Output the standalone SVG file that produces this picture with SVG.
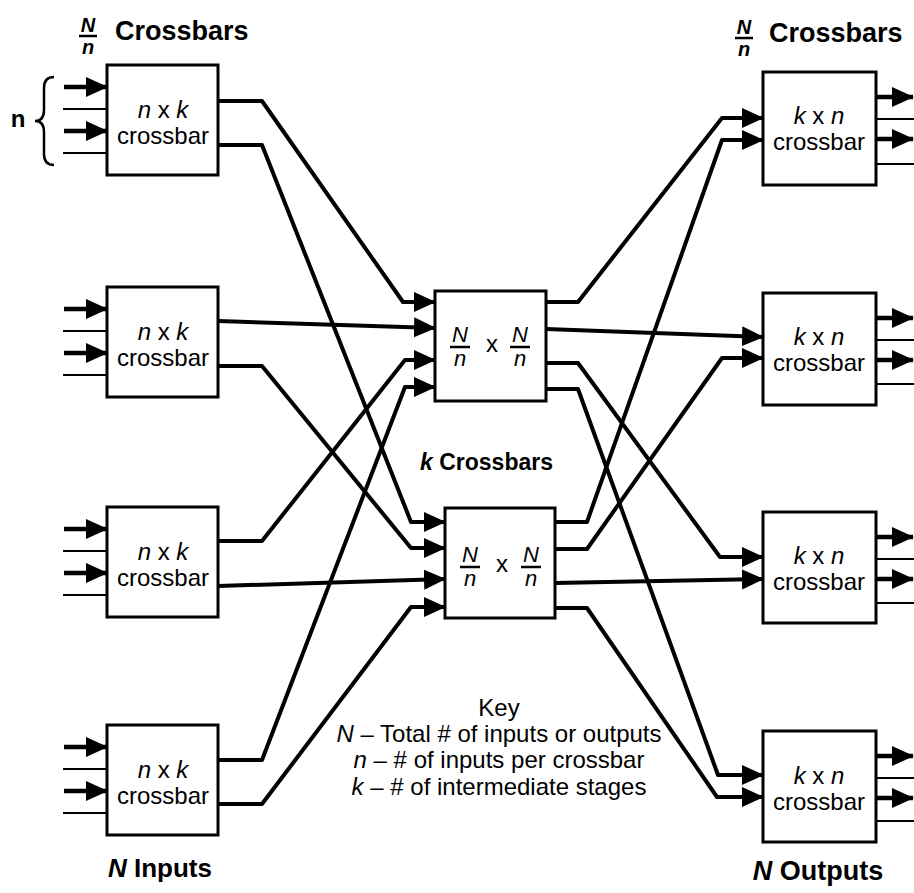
<svg xmlns="http://www.w3.org/2000/svg" width="914" height="893" viewBox="0 0 914 893">
<defs>
<marker id="ah" markerUnits="userSpaceOnUse" markerWidth="22" markerHeight="22" refX="21" refY="10" orient="auto" viewBox="0 0 22 20">
<path d="M0,0 L22,10 L0,20 z" fill="#000"/>
</marker>
</defs>
<style>
text{font-family:"Liberation Sans",Arial,sans-serif;fill:#000}
.box{fill:#fff;stroke:#000;stroke-width:3}
.lbl{font-size:24px;text-anchor:middle}
.fr{font-size:22px;text-anchor:middle;font-style:italic}
.hf{font-size:20px;text-anchor:middle;font-style:italic;font-weight:bold}
.it{font-style:italic}
.bd{font-weight:bold}
.thick{fill:none;stroke:#000;stroke-width:4.5;marker-end:url(#ah)}
.thin{fill:none;stroke:#000;stroke-width:2}
.conn{fill:none;stroke:#000;stroke-width:4;stroke-linejoin:round;marker-end:url(#ah)}
.bar{stroke:#000;stroke-width:2.5}
</style>
<rect width="914" height="893" fill="#fff"/>

<g id="headers">
<text x="88" y="32" class="hf">N</text>
<line x1="79" y1="36" x2="97" y2="36" class="bar"/>
<text x="88" y="54" class="hf">n</text>
<text x="115" y="40" class="bd" style="font-size:27px">Crossbars</text>
<text x="744" y="34" class="hf">N</text>
<line x1="735" y1="38" x2="753" y2="38" class="bar"/>
<text x="744" y="56" class="hf">n</text>
<text x="769" y="42" class="bd" style="font-size:27px">Crossbars</text>
<text x="420" y="470" class="bd" style="font-size:23px"><tspan class="it">k</tspan> Crossbars</text>
<text x="160" y="877" class="bd" style="font-size:26px;text-anchor:middle"><tspan class="it">N</tspan> Inputs</text>
<text x="818" y="880" class="bd" style="font-size:27px;text-anchor:middle"><tspan class="it">N</tspan> Outputs</text>
</g>

<g id="brace">
<text x="18" y="127" class="lbl bd">n</text>
<path d="M54,77 Q44,77 44,88 L44,110 Q44,121 35,121 Q44,121 44,132 L44,154 Q44,165 54,165" fill="none" stroke="#000" stroke-width="2.5"/>
</g>

<g id="key">
<text x="499" y="716" class="lbl">Key</text>
<text x="499" y="742" class="lbl"><tspan class="it">N</tspan> – Total # of inputs or outputs</text>
<text x="499" y="768" class="lbl"><tspan class="it">n</tspan> – # of inputs per crossbar</text>
<text x="499" y="795" class="lbl"><tspan class="it">k</tspan> – # of intermediate stages</text>
</g>

<g id="connectors">
<path class="thick" d="M64,87 H107"/><path class="thin" d="M63,109 H107"/>
<path class="thick" d="M64,131 H107"/><path class="thin" d="M63,153 H107"/>
<path class="thick" d="M64,309 H107"/><path class="thin" d="M63,331 H107"/>
<path class="thick" d="M64,353 H107"/><path class="thin" d="M63,375 H107"/>
<path class="thick" d="M64,529 H107"/><path class="thin" d="M63,551 H107"/>
<path class="thick" d="M64,573 H107"/><path class="thin" d="M63,595 H107"/>
<path class="thick" d="M64,747 H107"/><path class="thin" d="M63,769 H107"/>
<path class="thick" d="M64,791 H107"/><path class="thin" d="M63,813 H107"/>
<path class="conn" d="M218,101 H262 L403,302 H435"/>
<path class="conn" d="M218,145 H262 L411,522 H445"/>
<path class="conn" d="M218,321 L435,328"/>
<path class="conn" d="M218,366 H262 L411,548 H445"/>
<path class="conn" d="M218,541 H262 L405,360 H435"/>
<path class="conn" d="M218,586 L445,579"/>
<path class="conn" d="M218,760 H262 L405,387 H435"/>
<path class="conn" d="M218,804 H262 L411,607 H445"/>
<path class="conn" d="M546,302 H578 L722,118 H763"/>
<path class="conn" d="M546,329 L763,337"/>
<path class="conn" d="M546,363 H578 L720,557 H763"/>
<path class="conn" d="M546,389 H578 L718,775 H763"/>
<path class="conn" d="M555,522 H587 L722,140 H763"/>
<path class="conn" d="M555,549 H587 L722,358 H763"/>
<path class="conn" d="M555,583 L763,579"/>
<path class="conn" d="M555,608 H587 L717,797 H763"/>
<path class="thick" d="M876,97 H913"/><path class="thin" d="M876,119 H914"/>
<path class="thick" d="M876,139 H913"/><path class="thin" d="M876,164 H914"/>
<path class="thick" d="M876,318 H913"/><path class="thin" d="M876,340 H914"/>
<path class="thick" d="M876,360 H913"/><path class="thin" d="M876,384 H914"/>
<path class="thick" d="M876,537 H913"/><path class="thin" d="M876,559 H914"/>
<path class="thick" d="M876,579 H913"/><path class="thin" d="M876,603 H914"/>
<path class="thick" d="M876,756 H913"/><path class="thin" d="M876,778 H914"/>
<path class="thick" d="M876,798 H913"/><path class="thin" d="M876,821 H914"/>
</g>

<g id="in1"><rect class="box" x="107" y="65" width="111" height="110"/>
<text x="163" y="118" class="lbl"><tspan class="it">n</tspan> x <tspan class="it">k</tspan></text><text x="163" y="144" class="lbl">crossbar</text></g>
<g id="in2"><rect class="box" x="107" y="287" width="111" height="110"/>
<text x="163" y="340" class="lbl"><tspan class="it">n</tspan> x <tspan class="it">k</tspan></text><text x="163" y="366" class="lbl">crossbar</text></g>
<g id="in3"><rect class="box" x="107" y="507" width="111" height="110"/>
<text x="163" y="560" class="lbl"><tspan class="it">n</tspan> x <tspan class="it">k</tspan></text><text x="163" y="586" class="lbl">crossbar</text></g>
<g id="in4"><rect class="box" x="107" y="725" width="111" height="110"/>
<text x="163" y="778" class="lbl"><tspan class="it">n</tspan> x <tspan class="it">k</tspan></text><text x="163" y="804" class="lbl">crossbar</text></g>

<g id="mid1"><rect class="box" x="435" y="291" width="111" height="110"/>
<text x="460" y="342" class="fr">N</text><line x1="450" y1="347" x2="470" y2="347" class="bar"/><text x="460" y="366" class="fr">n</text>
<text x="492" y="352" class="lbl">x</text>
<text x="520" y="342" class="fr">N</text><line x1="510" y1="347" x2="530" y2="347" class="bar"/><text x="520" y="366" class="fr">n</text></g>
<g id="mid2"><rect class="box" x="445" y="508" width="110" height="110"/>
<text x="470" y="562" class="fr">N</text><line x1="460" y1="567" x2="480" y2="567" class="bar"/><text x="470" y="586" class="fr">n</text>
<text x="502" y="572" class="lbl">x</text>
<text x="531" y="562" class="fr">N</text><line x1="521" y1="567" x2="541" y2="567" class="bar"/><text x="531" y="586" class="fr">n</text></g>

<g id="out1"><rect class="box" x="763" y="72" width="113" height="113"/>
<text x="819" y="124" class="lbl"><tspan class="it">k</tspan> x <tspan class="it">n</tspan></text><text x="819" y="150" class="lbl">crossbar</text></g>
<g id="out2"><rect class="box" x="763" y="293" width="113" height="112"/>
<text x="819" y="345" class="lbl"><tspan class="it">k</tspan> x <tspan class="it">n</tspan></text><text x="819" y="371" class="lbl">crossbar</text></g>
<g id="out3"><rect class="box" x="763" y="512" width="113" height="111"/>
<text x="819" y="564" class="lbl"><tspan class="it">k</tspan> x <tspan class="it">n</tspan></text><text x="819" y="590" class="lbl">crossbar</text></g>
<g id="out4"><rect class="box" x="763" y="731" width="113" height="111"/>
<text x="819" y="784" class="lbl"><tspan class="it">k</tspan> x <tspan class="it">n</tspan></text><text x="819" y="810" class="lbl">crossbar</text></g>
</svg>
